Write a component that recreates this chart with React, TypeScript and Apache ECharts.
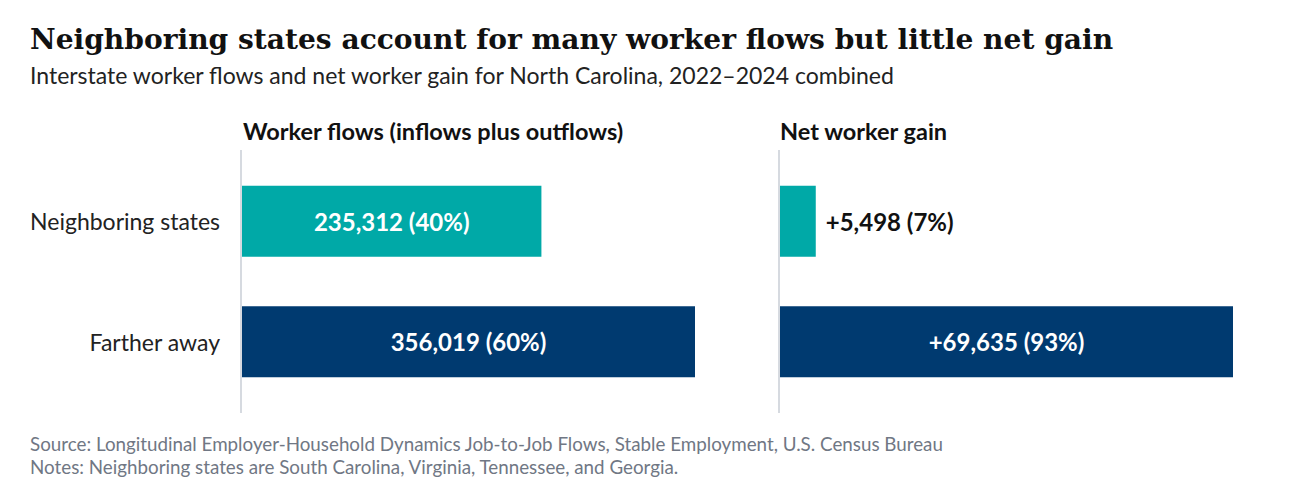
import React, { useEffect, useRef } from "react";
import * as echarts from "echarts";

// Interstate worker flows for North Carolina, 2022–2024 combined
const categories = ["Neighboring states", "Farther away"];
const workerFlows = [235312, 356019];
const flowShares = [40, 60];
const netGain = [5498, 69635];
const netShares = [7, 93];
const barColors = ["#00A9A7", "#003A70"];

const TITLE = "Neighboring states account for many worker flows but little net gain";
const SUBTITLE = "Interstate worker flows and net worker gain for North Carolina, 2022–2024 combined";
const PANEL_LEFT = "Worker flows (inflows plus outflows)";
const PANEL_RIGHT = "Net worker gain";
const SOURCE = "Source: Longitudinal Employer-Household Dynamics Job-to-Job Flows, Stable Employment, U.S. Census Bureau";
const NOTES = "Notes: Neighboring states are South Carolina, Virginia, Tennessee, and Georgia.";

const SANS = "Lato, 'Open Sans', sans-serif";
const SERIF = "'DejaVu Serif', 'Liberation Serif', serif";

const fmt = (v: number) => v.toLocaleString("en-US");

export default function App() {
  const ref = useRef<HTMLDivElement>(null);

  useEffect(() => {
    if (!ref.current) return;
    const chart = echarts.init(ref.current, undefined, { renderer: "svg" });

    const flowData = workerFlows.map((v, i) => ({
      value: v,
      itemStyle: { color: barColors[i] },
      label: {
        show: true,
        position: "inside",
        formatter: `${fmt(v)} (${flowShares[i]}%)`,
        color: "#ffffff",
        fontFamily: SANS,
        fontSize: 24,
        fontWeight: "bold",
      },
    }));

    // Small bars carry their label outside, in dark text
    const netData = netGain.map((v, i) => {
      const small = v < 20000;
      return {
        value: v,
        itemStyle: { color: barColors[i] },
        label: {
          show: true,
          position: small ? "right" : "inside",
          distance: 10,
          formatter: `+${fmt(v)} (${netShares[i]}%)`,
          color: small ? "#111111" : "#ffffff",
          fontFamily: SANS,
          fontSize: 24,
          fontWeight: "bold",
        },
      };
    });

    const gridTop = 161;
    const gridHeight = 241;

    const yAxisBase = {
      type: "category",
      data: categories,
      inverse: true,
      axisLine: { show: false },
      axisTick: { show: false },
    };

    chart.setOption({
      animation: false,
      backgroundColor: "#ffffff",
      title: [
        {
          text: TITLE,
          left: 25,
          top: 20,
          textStyle: { fontFamily: SERIF, fontSize: 28.1, fontWeight: "bold", color: "#111111" },
        },
        {
          text: SUBTITLE,
          left: 25,
          top: 58,
          textStyle: { fontFamily: SANS, fontSize: 23, fontWeight: "normal", color: "#222222" },
        },
        {
          text: PANEL_LEFT,
          left: 238,
          top: 114,
          textStyle: { fontFamily: SANS, fontSize: 23.5, fontWeight: "bold", color: "#111111" },
        },
        {
          text: PANEL_RIGHT,
          left: 775,
          top: 114,
          textStyle: { fontFamily: SANS, fontSize: 23.5, fontWeight: "bold", color: "#111111" },
        },
        {
          text: SOURCE,
          left: 25,
          top: 429,
          textStyle: { fontFamily: SANS, fontSize: 18.8, fontWeight: "normal", color: "#707784" },
        },
        {
          text: NOTES,
          left: 25,
          top: 452,
          textStyle: { fontFamily: SANS, fontSize: 18.8, fontWeight: "normal", color: "#707784" },
        },
      ],
      grid: [
        { left: 242, top: gridTop, width: 453, height: gridHeight },
        { left: 780, top: gridTop, width: 453, height: gridHeight },
      ],
      xAxis: [
        { type: "value", gridIndex: 0, min: 0, max: "dataMax", show: false },
        { type: "value", gridIndex: 1, min: 0, max: "dataMax", show: false },
      ],
      yAxis: [
        {
          ...yAxisBase,
          gridIndex: 0,
          axisLabel: { margin: 22, fontFamily: SANS, fontSize: 23, color: "#222222" },
        },
        { ...yAxisBase, gridIndex: 1, axisLabel: { show: false } },
      ],
      // Light baselines that run a little past the bar area
      graphic: [
        {
          type: "line",
          shape: { x1: 241, y1: 150, x2: 241, y2: 413 },
          style: { stroke: "#d6dae0", lineWidth: 2 },
        },
        {
          type: "line",
          shape: { x1: 779, y1: 150, x2: 779, y2: 413 },
          style: { stroke: "#d6dae0", lineWidth: 2 },
        },
      ],
      series: [
        {
          type: "bar",
          xAxisIndex: 0,
          yAxisIndex: 0,
          data: flowData,
          barWidth: 71,
        },
        {
          type: "bar",
          xAxisIndex: 1,
          yAxisIndex: 1,
          data: netData,
          barWidth: 71,
        },
      ],
    });

    return () => chart.dispose();
  }, []);

  return (
    <div
      ref={ref}
      style={{ position: "fixed", left: 0, top: 0, width: 1294, height: 500, background: "#fff" }}
    />
  );
}
